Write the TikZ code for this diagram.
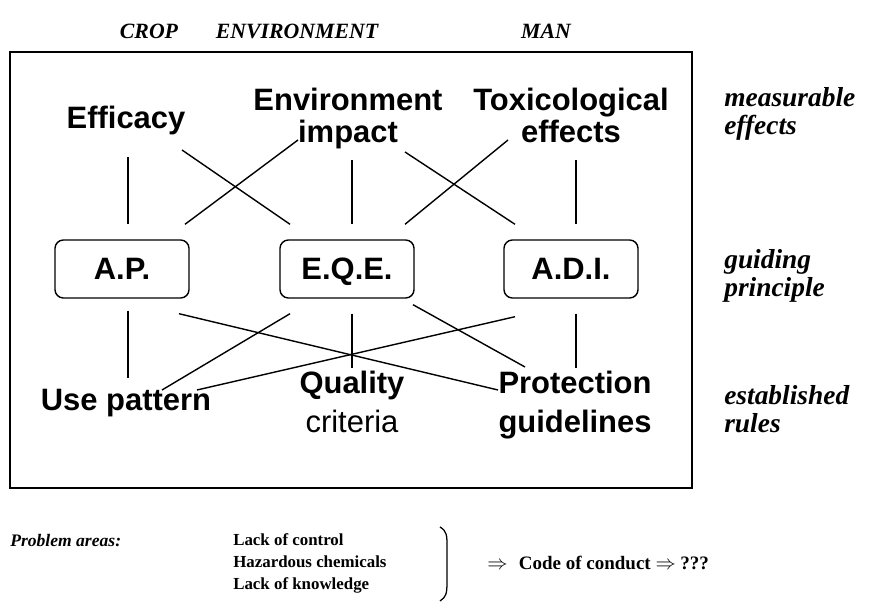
\documentclass[tikz,border=0pt]{standalone}
\usepackage{fontspec}
\setmainfont{Liberation Serif}
\setsansfont{Liberation Sans}
\usetikzlibrary{calc}

\begin{document}
\begin{tikzpicture}[x=0.025cm, y=-0.025cm]
\tikzset{edge/.style = {-, line width=1pt}}
\tikzset{term/.style = {font=\sffamily\bfseries\fontsize{22}{23}\selectfont, align=center, inner sep=0pt, text depth=0pt}}
\tikzset{rule/.style = {font=\sffamily\bfseries\fontsize{22}{27.5}\selectfont, align=center, inner sep=0pt, text depth=0pt}}
\tikzset{principle/.style = {shape=rectangle, rounded corners=6pt, draw, line width=1pt,
  minimum width=3.35cm, minimum height=1.45cm, text depth=0pt, font=\sffamily\bfseries\fontsize{22}{23}\selectfont}}
\tikzset{head/.style = {font=\bfseries\itshape\fontsize{15.5}{17}\selectfont}}
\tikzset{level/.style = {font=\bfseries\itshape\fontsize{19.5}{20}\selectfont, align=left, anchor=west, inner sep=0pt}}
\tikzset{note/.style = {font=\bfseries\fontsize{12}{15.6}\selectfont, align=left, anchor=west, inner sep=0pt}}
\useasboundingbox (0,0) rectangle (880,616);
% column heads
\node[head](crop) at (149,31) {CROP};
\node[head](envh) at (297,31) {ENVIRONMENT};
\node[head](man) at (546,31) {MAN};
% frame
\draw[line width=1pt] (10,52) rectangle (692,488);
% measurable effects
\node[term](eff) at (126,117) {Efficacy};
\node[term](env) at (348,115) {Environment\\impact};
\node[term](tox) at (571,115) {Toxicological\\effects};
% guiding principles
\node[principle](ap) at (122,269) {A.P.};
\node[principle](eqe) at (347,269) {E.Q.E.};
\node[principle](adi) at (571,269) {A.D.I.};
% established rules
\node[rule](use) at (126,400) {Use pattern};
\node[rule](qual) at (352,402) {Quality\\\mdseries criteria};
\node[rule](prot) at (575,402) {Protection\\guidelines};
% levels
\node[level](lv1) at (724,114) {measurable\\effects};
\node[level](lv2) at (724,276) {guiding\\principle};
\node[level](lv3) at (724,409) {established\\rules};
% top connectors
\draw[edge] ($(eff)+(2,40)$) to ($(ap.north)+(6,-15)$);
\draw[edge] ($(eff)+(56,33)$) to ($(eqe.north)+(-57,-15)$);
\draw[edge] ($(env)+(-50,25)$) to ($(ap.north)+(63,-15)$);
\draw[edge] ($(env)+(4,45)$) to ($(eqe.north)+(5,-15)$);
\draw[edge] ($(env)+(57,37)$) to ($(adi.north)+(-56,-15)$);
\draw[edge] ($(tox)+(-63,25)$) to ($(eqe.north)+(58,-15)$);
\draw[edge] ($(tox)+(5,45)$) to ($(adi.north)+(5,-15)$);
% bottom connectors
\draw[edge] ($(ap.south)+(6,12)$) to ($(use)+(2,-22)$);
\draw[edge] ($(eqe.south)+(5,15)$) to ($(qual)+(0,-34)$);
\draw[edge] ($(adi.south)+(5,15)$) to ($(prot)+(1,-34)$);
\draw[edge] ($(ap.south)+(57,15)$) to ($(prot)+(-77,-12)$);
\draw[edge] ($(eqe.south)+(-57,15)$) to ($(use)+(36,-10)$);
\draw[edge] ($(eqe.south)+(66,6)$) to ($(prot)+(-50,-35)$);
\draw[edge] ($(adi.south)+(-56,18)$) to ($(use)+(71,-10)$);
% problem areas
\node[font=\bfseries\itshape\fontsize{12.5}{15}\selectfont, anchor=west, inner sep=0pt](prob) at (10,541) {Problem areas:};
\node[note](list) at (233,563) {Lack of control\\Hazardous chemicals\\Lack of knowledge};
\draw[line width=0.9pt] (440,527) .. controls (447,531) and (447,536) .. (447,546) -- (447,582)
  .. controls (447,594) and (446,597) .. (440,601);
\node[note, font=\bfseries\fontsize{13.5}{16}\selectfont](code) at (487,563) {$\Rightarrow$\hspace{0.6em}Code of conduct $\Rightarrow$ ???};
\end{tikzpicture}
\end{document}
